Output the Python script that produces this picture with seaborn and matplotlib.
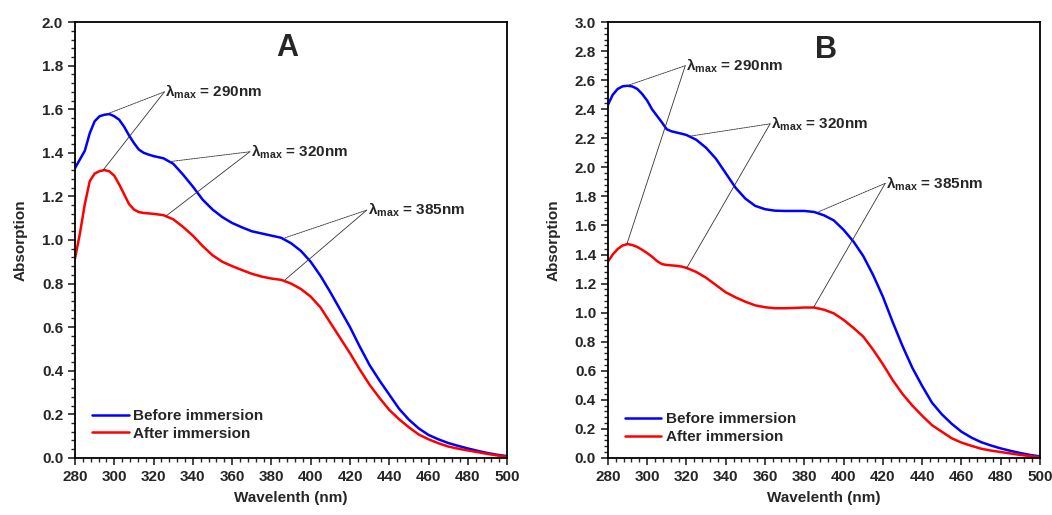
import matplotlib
matplotlib.use("Agg")
import matplotlib.pyplot as plt
import seaborn as sns
from matplotlib.ticker import MultipleLocator, AutoMinorLocator, FormatStrFormatter

# ---------------------------------------------------------------------
# data (absorption vs wavelength)
wavelength = [280, 282.5, 285, 287.5, 290, 292.5, 295, 297.5, 300, 302.5, 305,
              307.5, 310, 312.5, 315, 317.5, 320] + list(range(325, 501, 5))

a_before = [1.33, 1.37, 1.41, 1.49, 1.545, 1.568, 1.575, 1.578, 1.568, 1.552, 1.52,
            1.48, 1.445, 1.415, 1.40, 1.392, 1.385,
            1.375, 1.35, 1.30, 1.245, 1.185, 1.14, 1.105, 1.078, 1.058,
            1.04, 1.03, 1.02, 1.01, 0.985, 0.95, 0.90, 0.835, 0.76, 0.68,
            0.60, 0.51, 0.425, 0.355, 0.29, 0.225, 0.175, 0.135, 0.105, 0.085,
            0.068, 0.055, 0.043, 0.032, 0.022, 0.014, 0.008]
a_after = [0.915, 1.03, 1.165, 1.27, 1.305, 1.316, 1.321, 1.315, 1.295, 1.255, 1.21,
           1.165, 1.14, 1.128, 1.124, 1.122, 1.12,
           1.114, 1.095, 1.06, 1.02, 0.972, 0.93, 0.90, 0.88, 0.862,
           0.845, 0.832, 0.823, 0.817, 0.80, 0.775, 0.74, 0.69, 0.62, 0.55,
           0.48, 0.405, 0.335, 0.275, 0.22, 0.177, 0.14, 0.107, 0.085, 0.067,
           0.052, 0.042, 0.034, 0.026, 0.018, 0.011, 0.005]

b_before = [2.43, 2.50, 2.54, 2.558, 2.562, 2.557, 2.54, 2.505, 2.46, 2.40, 2.355,
            2.31, 2.262, 2.248, 2.24, 2.232, 2.223,
            2.19, 2.135, 2.06, 1.96, 1.86, 1.785, 1.735, 1.712, 1.702,
            1.70, 1.70, 1.70, 1.693, 1.67, 1.635, 1.57, 1.49, 1.39, 1.26,
            1.11, 0.935, 0.77, 0.62, 0.495, 0.38, 0.30, 0.235, 0.18, 0.14,
            0.108, 0.085, 0.065, 0.048, 0.033, 0.02, 0.01]
b_after = [1.35, 1.40, 1.438, 1.462, 1.472, 1.465, 1.452, 1.432, 1.41, 1.385, 1.355,
           1.334, 1.328, 1.325, 1.322, 1.317, 1.308,
           1.28, 1.24, 1.19, 1.14, 1.105, 1.075, 1.05, 1.037, 1.03,
           1.03, 1.032, 1.035, 1.035, 1.02, 0.995, 0.95, 0.895, 0.835, 0.745,
           0.645, 0.535, 0.44, 0.36, 0.29, 0.225, 0.18, 0.135, 0.105, 0.083,
           0.063, 0.05, 0.04, 0.03, 0.02, 0.012, 0.005]

# lambda max annotations: label, leader start, point on blue, point on red
peaks = ["290", "320", "385"]
a_start = [(325.5, 1.68), (369.0, 1.405), (428.5, 1.137)]
a_blue = [(296.8, 1.58), (328.4, 1.36), (386.9, 1.01)]
a_red = [(294.4, 1.322), (326.6, 1.112), (386.9, 0.817)]
b_start = [(319.4, 2.70), (362.6, 2.30), (421.2, 1.89)]
b_blue = [(289.7, 2.562), (321.9, 2.215), (387.2, 1.694)]
b_red = [(289.7, 1.472), (320.2, 1.308), (384.7, 1.035)]

# ---------------------------------------------------------------------
sns.set_style("ticks")
plt.rcParams["font.family"] = ["Liberation Sans", "DejaVu Sans"]
plt.rcParams["font.weight"] = "bold"
plt.rcParams["mathtext.fontset"] = "custom"
plt.rcParams["mathtext.bf"] = "Liberation Sans:bold"
plt.rcParams["mathtext.rm"] = "Liberation Sans"

fig, axes = plt.subplots(1, 2, figsize=(10.52, 5.15), dpi=100)
fig.subplots_adjust(left=0.0713, right=0.9886, top=0.957, bottom=0.111, wspace=0.233)


def draw_panel(ax, before, after, ymax, letter, letter_pos, starts, blues, reds, leg_anchor):
    sns.lineplot(x=wavelength, y=before, color="#0000ff", lw=1.8, label="Before immersion", ax=ax)
    sns.lineplot(x=wavelength, y=after, color="#ff0000", lw=1.8, label="After immersion", ax=ax)

    for pk, st, pb, pr in zip(peaks, starts, blues, reds):
        ax.annotate("", xy=pb, xytext=st,
                    arrowprops=dict(arrowstyle="-", lw=0.6, color="#333333", linestyle=(0, (2, 1)),
                                    shrinkA=0, shrinkB=0))
        ax.annotate("", xy=pr, xytext=st,
                    arrowprops=dict(arrowstyle="-", lw=0.6, color="#333333",
                                    shrinkA=0, shrinkB=0))
        ax.text(st[0] + 0.5, st[1], r"$\mathrm{λ}_{\mathbf{max}}$ = " + pk + "nm",
                ha="left", va="center", fontsize=11, fontweight="bold")

    ax.text(letter_pos[0], letter_pos[1], letter, ha="center", va="center",
            fontsize=22, fontweight="bold")

    ax.set_xlim(280, 500)
    ax.set_ylim(0, ymax)
    ax.xaxis.set_major_locator(MultipleLocator(20))
    ax.xaxis.set_minor_locator(AutoMinorLocator(5))
    ax.yaxis.set_major_locator(MultipleLocator(0.2))
    ax.yaxis.set_minor_locator(AutoMinorLocator(5))
    ax.yaxis.set_major_formatter(FormatStrFormatter("%.1f"))
    ax.tick_params(which="major", direction="out", length=5, width=1.2, labelsize=11,
                   top=False, right=False)
    ax.tick_params(which="minor", direction="out", length=3, width=1.0, top=False, right=False)
    for lab in ax.get_xticklabels() + ax.get_yticklabels():
        lab.set_fontweight("bold")
    for sp in ax.spines.values():
        sp.set_visible(True)
        sp.set_linewidth(1.3)
        sp.set_color("black")

    ax.set_xlabel("Wavelenth (nm)", fontsize=11, fontweight="bold", labelpad=5)
    ax.set_ylabel("Absorption", fontsize=11, fontweight="bold", labelpad=10)
    ax.legend(loc="lower left", bbox_to_anchor=leg_anchor, frameon=False, fontsize=11,
              handlelength=2.4, handletextpad=0.3, labelspacing=0.25, borderaxespad=0)


draw_panel(axes[0], a_before, a_after, 2.0, "A", (388, 1.88), a_start, a_blue, a_red, (0.025, 0.025))
draw_panel(axes[1], b_before, b_after, 3.0, "B", (391, 2.81), b_start, b_blue, b_red, (0.025, 0.018))

fig.savefig("out.png", dpi=100)
